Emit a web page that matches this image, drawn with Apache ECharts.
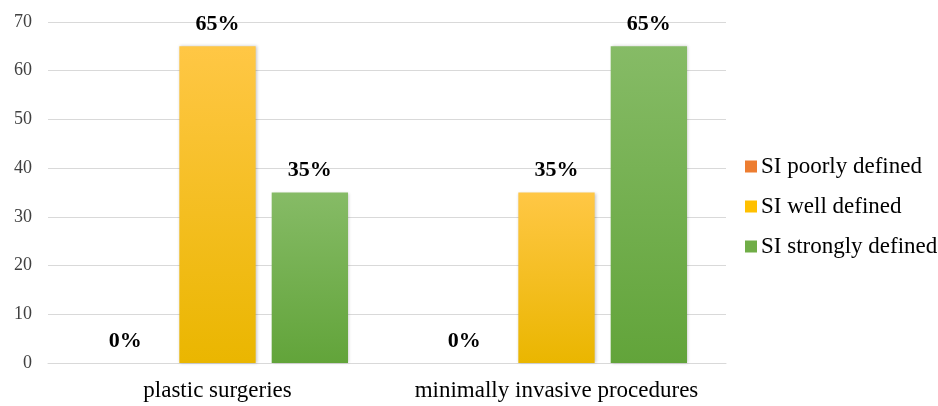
<!DOCTYPE html>
<html>
<head>
<meta charset="utf-8">
<script src="https://cdn.jsdelivr.net/npm/echarts@6/dist/echarts.min.js"></script>
<style>
  html, body { margin: 0; padding: 0; background: #ffffff; }
  #chart { width: 938px; height: 406px; }
</style>
</head>
<body>
<div id="chart"></div>
<script>
// Categories and the share (%) of each SI rating per category
const categories = ['plastic surgeries', 'minimally invasive procedures'];
const poorlyDefined = [0, 0];
const wellDefined = [65, 35];
const stronglyDefined = [35, 65];
const yTicks = { min: 0, max: 70, interval: 10 };

const serif = '"Liberation Serif", "Times New Roman", serif';

function grad(top, bottom) {
  return new echarts.graphic.LinearGradient(0, 0, 0, 1, [
    { offset: 0, color: top },
    { offset: 1, color: bottom }
  ]);
}

function barSeries(name, data, fill) {
  return {
    name: name,
    type: 'bar',
    data: data,
    barGap: '21%',
    barCategoryGap: '23%',
    itemStyle: {
      color: fill,
      shadowColor: 'rgba(0,0,0,0.22)',
      shadowBlur: 3,
      shadowOffsetX: 1
    },
    label: {
      show: true,
      position: 'top',
      distance: 11,
      formatter: p => p.value + '%',
      fontFamily: serif,
      fontWeight: 'bold',
      fontSize: 22,
      color: '#000000'
    }
  };
}

const chart = echarts.init(document.getElementById('chart'), null, { renderer: 'canvas' });
chart.setOption({
  animation: false,
  backgroundColor: '#ffffff',
  color: ['#ED7D31', '#FFC000', '#70AD47'],
  grid: { left: 48, right: 212, top: 22, bottom: 43, containLabel: false },
  legend: {
    orient: 'vertical',
    left: 740,
    top: 150,
    itemWidth: 12,
    itemHeight: 12,
    itemGap: 17,
    icon: 'rect',
    textStyle: { fontFamily: serif, fontSize: 23, lineHeight: 23, color: '#000000', padding: [0, 0, 0, -1] },
    data: [
      { name: 'SI poorly defined', itemStyle: { color: '#ED7D31' } },
      { name: 'SI well defined', itemStyle: { color: '#FFC000' } },
      { name: 'SI strongly defined', itemStyle: { color: '#70AD47' } }
    ]
  },
  xAxis: {
    type: 'category',
    data: categories,
    axisLine: { lineStyle: { color: '#d9d9d9', width: 1 } },
    axisTick: { show: false },
    axisLabel: { interval: 0, fontFamily: serif, fontSize: 23, color: '#000000', margin: 16 }
  },
  yAxis: {
    type: 'value',
    min: yTicks.min,
    max: yTicks.max,
    interval: yTicks.interval,
    axisLine: { show: false },
    axisTick: { show: false },
    splitLine: { lineStyle: { color: '#d9d9d9', width: 1 } },
    axisLabel: { fontFamily: serif, fontSize: 18, color: '#404040', margin: 16 }
  },
  series: [
    barSeries('SI poorly defined', poorlyDefined, grad('#F4A06A', '#E2701F')),
    barSeries('SI well defined', wellDefined, grad('#FFC745', '#EAB600')),
    barSeries('SI strongly defined', stronglyDefined, grad('#86BB66', '#62A43A'))
  ]
});
</script>
</body>
</html>
